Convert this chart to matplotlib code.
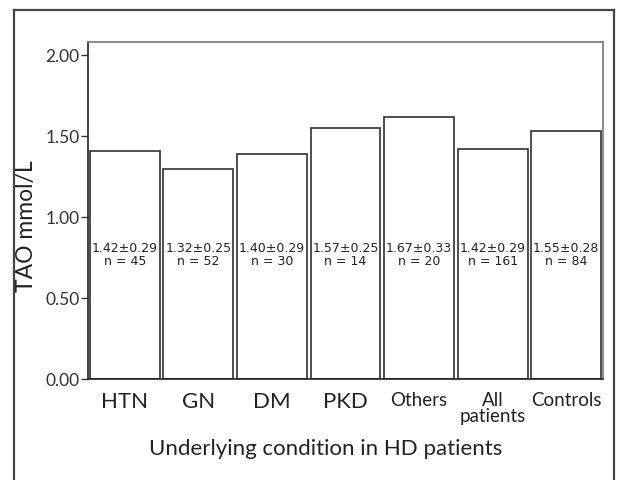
import matplotlib
matplotlib.use("Agg")
import matplotlib.pyplot as plt
from matplotlib.lines import Line2D

categories = ["HTN", "GN", "DM", "PKD", "Others", "All\npatients", "Controls"]
bar_values = [1.404, 1.293, 1.385, 1.548, 1.618, 1.416, 1.529]
mean_labels = ["1.42±0.29", "1.32±0.25", "1.40±0.29", "1.57±0.25", "1.67±0.33", "1.42±0.29", "1.55±0.28"]
n_labels = ["n = 45", "n = 52", "n = 30", "n = 14", "n = 20", "n = 161", "n = 84"]
yticks = [0.0, 0.5, 1.0, 1.5, 2.0]
ytick_labels = ["0.00", "0.50", "1.00", "1.50", "2.00"]

plt.rcParams['font.family'] = ['Lato', 'DejaVu Sans']

W, H = 619, 481
fig = plt.figure(figsize=(W / 100, H / 100), dpi=100)
ax = fig.add_axes([88 / W, 1 - 380 / H, (603 - 88) / W, (380 - 43) / H])

x = list(range(len(categories)))
ax.bar(x, bar_values, width=0.95, color="white", edgecolor="#404040", linewidth=1.3)

for xi, m, n in zip(x, mean_labels, n_labels):
    ax.text(xi, 0.77, m + "\n" + n, ha="center", va="center", fontsize=9,
            family=["DejaVu Sans"], color="#222222", linespacing=1.0)

ax.set_xlim(-0.5, len(categories) - 0.5)
ax.set_ylim(0, 2.078)
ax.set_yticks(yticks)
ax.set_yticklabels(ytick_labels, fontsize=12.5, color="#333333")
ax.set_xticks(x)
ax.set_xticklabels(categories)
sizes = [16, 16, 16, 16, 13.5, 13.5, 13.5]
for lbl, s in zip(ax.get_xticklabels(), sizes):
    lbl.set_fontsize(s)
    lbl.set_color("#222222")
    lbl.set_linespacing(0.9)
ax.tick_params(axis="x", length=0, pad=9)
ax.tick_params(axis="y", length=5, width=1, color="#333333", pad=1)

for s in ["left", "bottom"]:
    ax.spines[s].set_color("#222222")
    ax.spines[s].set_linewidth(1.2)
for s in ["top", "right"]:
    ax.spines[s].set_color("#777777")
    ax.spines[s].set_linewidth(1.2)

ax.set_ylabel("TAO mmol/L", fontsize=16.5, color="#222222")
ax.yaxis.set_label_coords(-0.1, 0.457)
ax.set_xlabel("Underlying condition in HD patients", fontsize=16, color="#222222")
ax.xaxis.set_label_coords(0.462, -0.175)

# outer frame (open at bottom)
fx0, fx1, fy1 = 13.5 / W, 614 / W, 1 - 11 / H
for xs, ys in [([fx0, fx0], [0, fy1]), ([fx0, fx1], [fy1, fy1]), ([fx1, fx1], [fy1, 0])]:
    fig.add_artist(Line2D(xs, ys, transform=fig.transFigure, color="#444444", linewidth=1.6))

fig.savefig("out.png", dpi=100)
